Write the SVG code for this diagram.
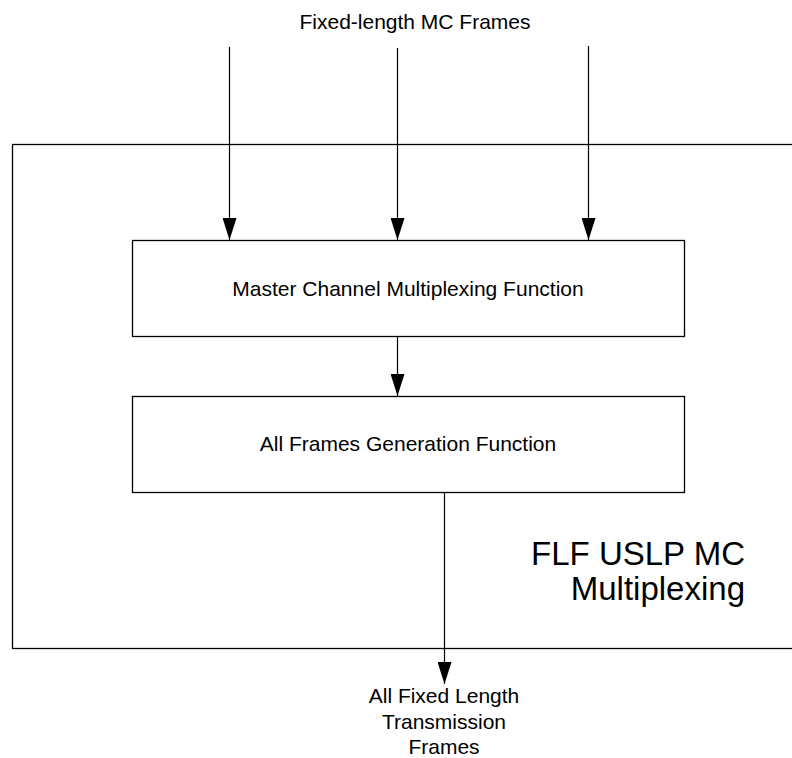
<svg xmlns="http://www.w3.org/2000/svg" width="792" height="758" viewBox="0 0 792 758">
<style>
.box{fill:#fff;stroke:#000;stroke-width:1.3}
.ln{stroke:#000;stroke-width:1.2;fill:none}
text{font-family:"Liberation Sans",Arial,sans-serif;fill:#000}
.t{font-size:21px;text-anchor:middle}
.big{font-size:33px;text-anchor:end}
</style>
<defs>
<marker id="a" markerWidth="22" markerHeight="14" refX="22" refY="7" orient="auto" markerUnits="userSpaceOnUse" viewBox="0 0 22 14">
<path d="M0,0 L22,7 L0,14 Z" fill="#000"/>
</marker>
</defs>
<g id="outer">
<rect class="box" x="12.5" y="144.5" width="800" height="504" fill="none"/>
<text class="big" x="745" y="565">FLF USLP MC</text>
<text class="big" x="745" y="600">Multiplexing</text>
</g>
<g id="mcmf">
<rect class="box" x="132.5" y="240.5" width="552" height="96"/>
<text class="t" x="408" y="296">Master Channel Multiplexing Function</text>
</g>
<g id="afgf">
<rect class="box" x="132.5" y="396.5" width="552" height="96"/>
<text class="t" x="408" y="451">All Frames Generation Function</text>
</g>
<g id="input-label">
<text class="t" x="415" y="29">Fixed-length MC Frames</text>
</g>
<g id="output-label">
<text class="t" x="444" y="703">All Fixed Length</text>
<text class="t" x="444" y="729">Transmission</text>
<text class="t" x="444" y="754">Frames</text>
</g>
<g id="connectors">
<line class="ln" x1="229.5" y1="47" x2="229.5" y2="240" marker-end="url(#a)"/>
<line class="ln" x1="397.5" y1="48" x2="397.5" y2="240" marker-end="url(#a)"/>
<line class="ln" x1="588.5" y1="46" x2="588.5" y2="240" marker-end="url(#a)"/>
<line class="ln" x1="397.5" y1="337" x2="397.5" y2="396" marker-end="url(#a)"/>
<line class="ln" x1="444.5" y1="493" x2="444.5" y2="684" marker-end="url(#a)"/>
</g>
</svg>
